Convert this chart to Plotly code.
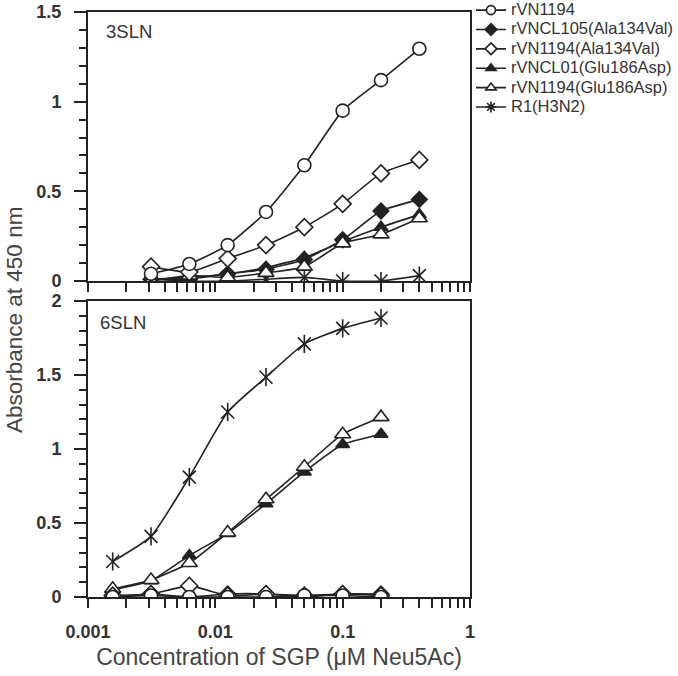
import plotly.graph_objects as go

# ---------------- data ----------------
x_3sln = [0.003125, 0.00625, 0.0125, 0.025, 0.05, 0.1, 0.2, 0.4]
x_6sln = [0.0015625, 0.003125, 0.00625, 0.0125, 0.025, 0.05, 0.1, 0.2]

series_names = ["rVN1194", "rVNCL105(Ala134Val)", "rVN1194(Ala134Val)",
                "rVNCL01(Glu186Asp)", "rVN1194(Glu186Asp)", "R1(H3N2)"]

# 3SLN panel
s3_rVN1194 = [0.04, 0.095, 0.20, 0.385, 0.645, 0.95, 1.12, 1.295]
s3_rVNCL105_A = [0.01, 0.01, 0.04, 0.065, 0.12, 0.23, 0.39, 0.455]
s3_rVN1194_A = [0.08, 0.05, 0.125, 0.20, 0.30, 0.43, 0.60, 0.675]
s3_rVNCL01_G = [0.01, 0.02, 0.04, 0.075, 0.13, 0.22, 0.30, 0.37]
s3_rVN1194_G = [0.0, 0.03, 0.02, 0.045, 0.08, 0.21, 0.26, 0.35]
s3_R1 = [0.01, 0.0, 0.0, 0.01, 0.02, 0.0, 0.0, 0.03]

# 6SLN panel
s6_rVN1194 = [0.0, 0.01, 0.0, 0.0, 0.0, 0.01, 0.01, 0.0]
s6_rVNCL105_A = [0.0, 0.02, 0.0, 0.02, 0.02, 0.0, 0.02, 0.02]
s6_rVN1194_A = [0.01, 0.02, 0.075, 0.01, 0.02, 0.01, 0.02, 0.01]
s6_rVNCL01_G = [0.05, 0.11, 0.28, 0.43, 0.63, 0.845, 1.03, 1.10]
s6_rVN1194_G = [0.055, 0.115, 0.23, 0.435, 0.66, 0.88, 1.10, 1.215]
s6_R1 = [0.24, 0.41, 0.81, 1.25, 1.485, 1.71, 1.815, 1.885]

x_tick_labels = ["0.001", "0.01", "0.1", "1"]
y_ticks_3 = [0, 0.5, 1, 1.5]
y_ticks_6 = [0, 0.5, 1, 1.5, 2]

# ---------------- styling ----------------
INK = "#222222"
FONT = "Liberation Sans, Arial, sans-serif"
# (symbol, filled?)
symbols = [("circle", False), ("diamond", True), ("diamond", False),
           ("triangle-up", True), ("triangle-up", False), ("x-thin-open", True)]
sizes = [13, 12, 13, 12, 14, 13]
R1_INDEX = 5

data_3 = [s3_rVN1194, s3_rVNCL105_A, s3_rVN1194_A, s3_rVNCL01_G, s3_rVN1194_G, s3_R1]
data_6 = [s6_rVN1194, s6_rVNCL105_A, s6_rVN1194_A, s6_rVNCL01_G, s6_rVN1194_G, s6_R1]

fig = go.Figure()


def marker(i, size, sym=None):
    s, filled = symbols[i]
    return dict(symbol=sym or s, size=size,
                color=INK if filled else "white",
                line=dict(color=INK, width=1.6))


order = [5, 1, 3, 4, 2, 0]
for xs, ds, xa, ya in [(x_3sln, data_3, "x", "y"), (x_6sln, data_6, "x2", "y2")]:
    for i in order:
        fig.add_trace(go.Scatter(
            x=xs, y=ds[i], mode="lines+markers",
            line=dict(color=INK, width=1.6, shape="spline", smoothing=0.5),
            marker=marker(i, sizes[i]),
            showlegend=False, xaxis=xa, yaxis=ya))
        if i == R1_INDEX:
            # vertical stroke completes the six-armed asterisk
            fig.add_trace(go.Scatter(
                x=xs, y=ds[i], mode="markers",
                marker=marker(i, sizes[i], sym="line-ns-open"),
                showlegend=False, xaxis=xa, yaxis=ya))

# legend entries
for i, name in enumerate(series_names):
    fig.add_trace(go.Scatter(
        x=[None], y=[None], mode="lines+markers",
        name="<span style='font-size:16.5px'>%s</span>" % name,
        line=dict(color=INK, width=1.6),
        marker=marker(i, 9, sym="asterisk-open" if i == R1_INDEX else None),
        xaxis="x", yaxis="y"))

minor_x = []
for d in [0.001, 0.01, 0.1]:
    for k in range(1, 10):
        minor_x.append(round(k * d, 6))
minor_x.append(1)
tick_text = []
for v in minor_x:
    s = ("%g" % v)
    tick_text.append(s if s in x_tick_labels else "")

TICKFONT = dict(family=FONT, size=18, color="#333333", weight="bold")

common_x = dict(type="log", range=[-3, 0], showgrid=False, zeroline=False,
                showline=True, linecolor=INK, linewidth=2, mirror=True,
                ticks="outside", ticklen=9, tickwidth=1.5, tickcolor=INK,
                tickmode="array", tickvals=minor_x, automargin=False)
common_y = dict(showgrid=False, zeroline=False, showline=True, linecolor=INK,
                linewidth=2, mirror=True, ticks="outside", ticklen=12,
                tickwidth=1.5, tickcolor=INK, automargin=False,
                tickfont=TICKFONT, ticklabelstandoff=9,
                ticklabeloverflow="allow",
                minor=dict(dtick=0.1, ticklen=7, tickwidth=1.5, tickcolor=INK,
                           ticks="outside", showgrid=False))

fig.update_layout(
    width=678, height=676,
    margin=dict(l=88, r=208, t=12, b=79, autoexpand=False),
    paper_bgcolor="white", plot_bgcolor="white",
    font=dict(family=FONT, color="#333333"),
    xaxis=dict(common_x, domain=[0, 1], anchor="y", showticklabels=False),
    yaxis=dict(common_y, domain=[0.5402, 1], range=[0, 1.5], anchor="x",
               tickmode="array", tickvals=y_ticks_3,
               ticktext=["0", "0.5", "1", "1.5"]),
    xaxis2=dict(common_x, domain=[0, 1], anchor="y2", ticktext=tick_text,
                tickfont=TICKFONT, ticklabelstandoff=8,
                ticklabeloverflow="allow",
                title=dict(text="Concentration of SGP (\u03bcM Neu5Ac)",
                           font=dict(family=FONT, size=23, color="#444444"),
                           standoff=8)),
    yaxis2=dict(common_y, domain=[0, 0.5060], range=[0, 2], anchor="x2",
                tickmode="array", tickvals=y_ticks_6,
                ticktext=["0", "0.5", "1", "1.5", "2"]),
    legend=dict(x=1.0026, xanchor="left", y=1.0284, yanchor="top",
                font=dict(family=FONT, size=12.6, color="#333333"),
                bgcolor="rgba(0,0,0,0)", borderwidth=0,
                tracegroupgap=0, itemwidth=30),
    annotations=[
        dict(text="3SLN", x=0.043, y=0.988, xref="paper", yref="paper",
             xanchor="left", yanchor="top", showarrow=False,
             font=dict(family=FONT, size=18.5, color="#333333")),
        dict(text="6SLN", x=0.025, y=0.4899, xref="paper", yref="paper",
             xanchor="left", yanchor="top", showarrow=False,
             font=dict(family=FONT, size=18.5, color="#333333")),
        dict(text="Absorbance at 450 nm", x=-0.1937, y=0.4735, xref="paper",
             yref="paper", textangle=-90, showarrow=False,
             xanchor="center", yanchor="middle",
             font=dict(family=FONT, size=22.5, color="#444444")),
    ],
)

# remove the browser's default 8px body margin so the figure sits at (0, 0)
fig.write_html("out.html", config={"displayModeBar": False},
               post_script="document.body.style.margin='0px';")
